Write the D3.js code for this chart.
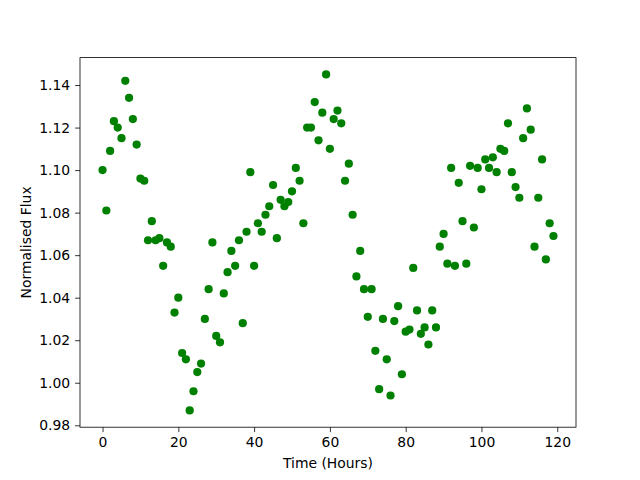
<!DOCTYPE html>
<html><head><meta charset="utf-8">
<script src="https://cdn.jsdelivr.net/npm/d3@7"></script>
<style>body{margin:0;background:#fff}svg{display:block}text{font-family:"DejaVu Sans",sans-serif}</style>
</head><body><svg id="c" width="640" height="480"></svg>
<script>
const hours = d3.range(0, 120);
const flux = [1.100,1.081,1.109,1.123,1.120,1.115,1.142,1.134,1.124,1.112,
1.096,1.095,1.067,1.076,1.067,1.068,1.055,1.066,1.064,1.033,
1.040,1.014,1.011,0.987,0.996,1.005,1.009,1.030,1.044,1.066,
1.022,1.019,1.042,1.052,1.062,1.055,1.067,1.028,1.071,1.099,
1.055,1.075,1.071,1.079,1.083,1.093,1.068,1.086,1.083,1.085,
1.090,1.101,1.095,1.075,1.120,1.120,1.132,1.114,1.127,1.145,
1.110,1.124,1.128,1.122,1.095,1.103,1.079,1.050,1.062,1.044,
1.031,1.044,1.015,0.997,1.030,1.011,0.994,1.029,1.036,1.004,
1.024,1.025,1.054,1.034,1.023,1.026,1.018,1.034,1.026,1.064,
1.070,1.056,1.101,1.055,1.094,1.076,1.056,1.102,1.073,1.101,
1.091,1.105,1.101,1.106,1.099,1.110,1.109,1.122,1.099,1.092,
1.087,1.115,1.129,1.119,1.064,1.087,1.105,1.058,1.075,1.069];
const xTicks = [0,20,40,60,80,100,120];
const yTicks = [0.98,1.00,1.02,1.04,1.06,1.08,1.10,1.12,1.14];

const svg = d3.select("#c");
const L=80,R=576,T=57.6,B=427.2;
function pad(ext){const r=ext[1]-ext[0];return [ext[0]-0.05*r, ext[1]+0.05*r];}
const x = d3.scaleLinear().domain(pad(d3.extent(hours))).range([L,R]);
const y = d3.scaleLinear().domain(pad(d3.extent(flux))).range([B,T]);

svg.append("g").selectAll("circle").data(hours).join("circle")
  .attr("cx",(d,i)=>x(hours[i])).attr("cy",(d,i)=>y(flux[i]))
  .attr("r",4.1).attr("fill","#008000");

const fs = "13.9px";
const xa = svg.append("g").attr("transform",`translate(0,${B})`)
  .call(d3.axisBottom(x).tickValues(xTicks).tickFormat(d3.format("d")).tickSize(4.9).tickPadding(4.9));
const ya = svg.append("g").attr("transform",`translate(${L},0)`)
  .call(d3.axisLeft(y).tickValues(yTicks).tickFormat(d3.format(".2f")).tickSize(4.9).tickPadding(4.9));
[xa,ya].forEach(a=>{a.select(".domain").remove();a.selectAll("line").attr("stroke","#000").attr("stroke-width",0.8);
  a.selectAll("text").attr("font-size",fs).attr("font-family","DejaVu Sans").attr("fill","#000");});

svg.append("rect").attr("x",L).attr("y",T).attr("width",R-L).attr("height",B-T)
  .attr("fill","none").attr("stroke","#000").attr("stroke-width",0.8);

svg.append("text").attr("x",(L+R)/2).attr("y",468).attr("text-anchor","middle")
  .attr("font-size",fs).text("Time (Hours)");
svg.append("text").attr("transform",`translate(31,${(T+B)/2}) rotate(-90)`).attr("text-anchor","middle")
  .attr("font-size",fs).text("Normalised Flux");
</script></body></html>
